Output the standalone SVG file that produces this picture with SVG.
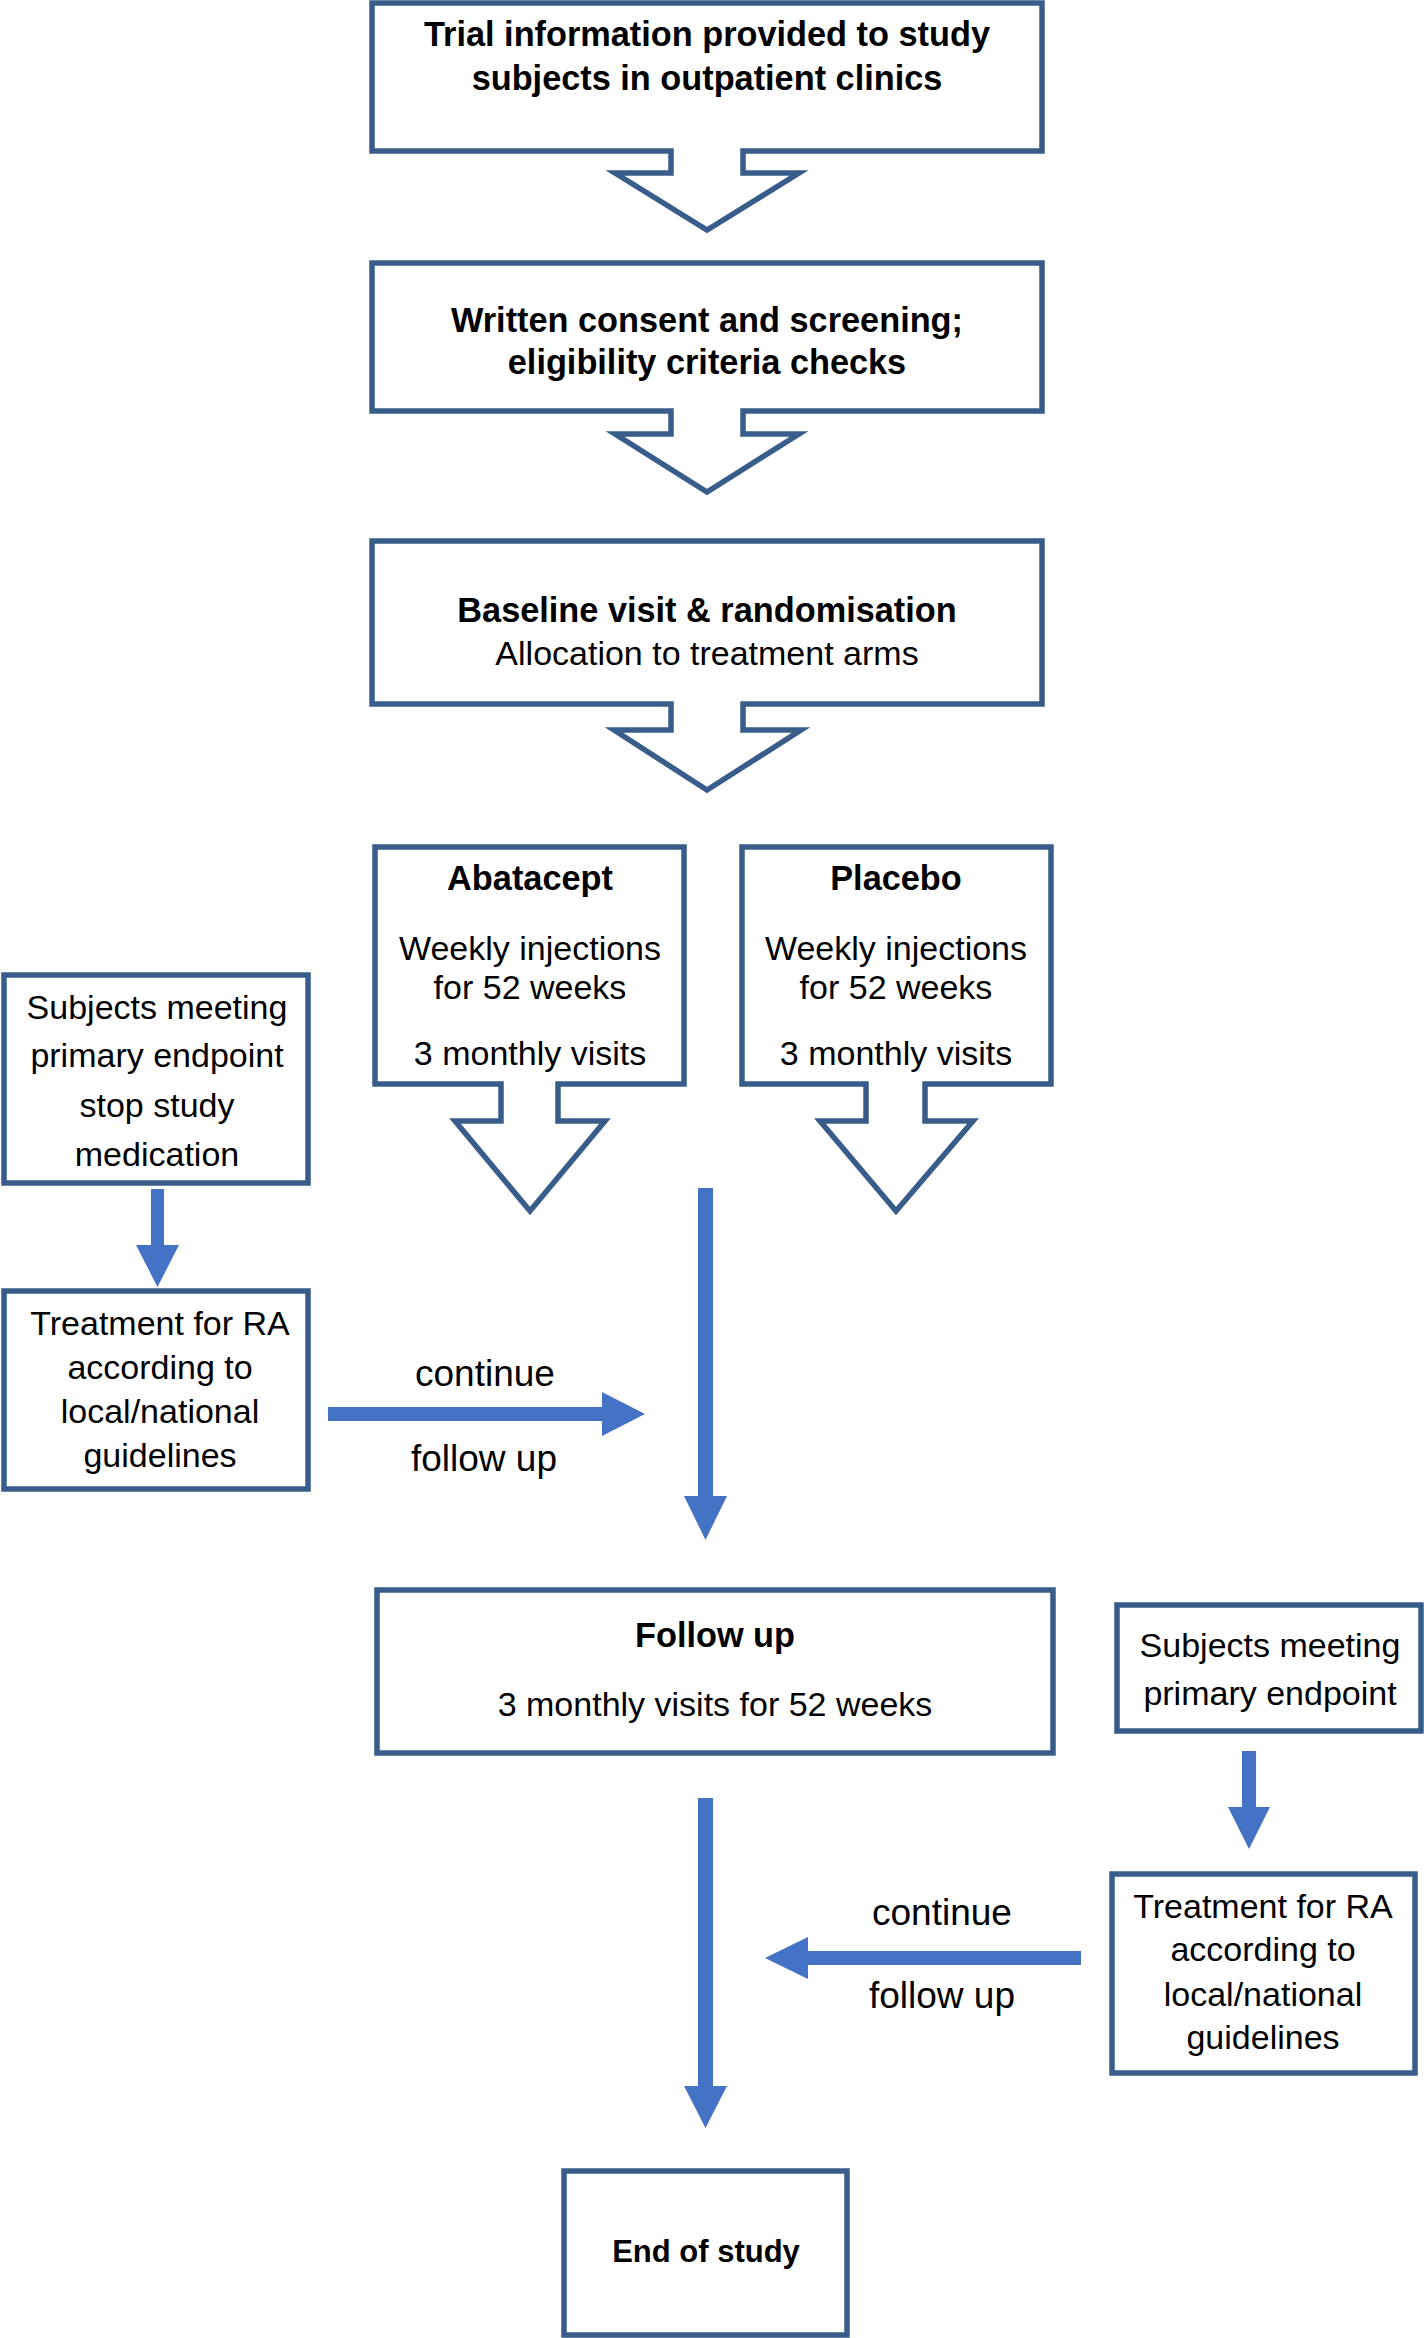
<svg xmlns="http://www.w3.org/2000/svg" width="1424" height="2338" viewBox="0 0 1424 2338">
<style>
.box{fill:#fff;stroke:#385D8A;stroke-width:5.5;stroke-linejoin:miter}
.arr{fill:#4472C4;stroke:none}
text{font-family:"Liberation Sans",Arial,sans-serif;font-size:34px;fill:#000;text-anchor:middle}
.b{font-weight:bold;font-size:34.3px}
.lbl{font-size:37px}
</style>
<rect width="1424" height="2338" fill="#fff"/>
<g id="n-trial">
<path class="box" d="M372,3 H1042 V151 H743 V173 H799 L707,230 L615,173 H671 V151 H372 Z"/>
<text class="b" x="707" y="46">Trial information provided to study</text>
<text class="b" x="707" y="90">subjects in outpatient clinics</text>
</g>
<g id="n-consent">
<path class="box" d="M372,263 H1042 V411 H743 V434 H799 L707,492 L615,434 H671 V411 H372 Z"/>
<text class="b" x="707" y="332">Written consent and screening;</text>
<text class="b" x="707" y="374">eligibility criteria checks</text>
</g>
<g id="n-baseline">
<path class="box" d="M372,541 H1042 V704 H743 V730 H801 L707,790 L614,730 H671 V704 H372 Z"/>
<text class="b" x="707" y="622">Baseline visit &amp; randomisation</text>
<text x="707" y="665">Allocation to treatment arms</text>
</g>
<g id="n-abatacept">
<path class="box" d="M375,847 H684 V1084 H558 V1121 H605 L530,1211 L455,1121 H501 V1084 H375 Z"/>
<text class="b" x="530" y="890">Abatacept</text>
<text x="530" y="960">Weekly injections</text>
<text x="530" y="999">for 52 weeks</text>
<text x="530" y="1065">3 monthly visits</text>
</g>
<g id="n-placebo">
<path class="box" d="M742,847 H1051 V1084 H925 V1121 H973 L896,1211 L820,1121 H866 V1084 H742 Z"/>
<text class="b" x="896" y="890">Placebo</text>
<text x="896" y="960">Weekly injections</text>
<text x="896" y="999">for 52 weeks</text>
<text x="896" y="1065">3 monthly visits</text>
</g>
<g id="n-stop">
<rect class="box" x="4" y="975" width="304" height="208"/>
<text x="157" y="1019">Subjects meeting</text>
<text x="157" y="1067">primary endpoint</text>
<text x="157" y="1117">stop study</text>
<text x="157" y="1166">medication</text>
</g>
<g id="n-treat-left">
<rect class="box" x="4" y="1291" width="304" height="198"/>
<text x="160" y="1335">Treatment for RA</text>
<text x="160" y="1379">according to</text>
<text x="160" y="1423">local/national</text>
<text x="160" y="1467">guidelines</text>
</g>
<g id="n-followup">
<rect class="box" x="377" y="1590" width="676" height="163"/>
<text class="b" x="715" y="1647">Follow up</text>
<text x="715" y="1716">3 monthly visits for 52 weeks</text>
</g>
<g id="n-endpoint-right">
<rect class="box" x="1117" y="1605" width="304" height="126"/>
<text x="1270" y="1657">Subjects meeting</text>
<text x="1270" y="1705">primary endpoint</text>
</g>
<g id="n-treat-right">
<rect class="box" x="1112" y="1874" width="303" height="199"/>
<text x="1263" y="1918">Treatment for RA</text>
<text x="1263" y="1961">according to</text>
<text x="1263" y="2006">local/national</text>
<text x="1263" y="2049">guidelines</text>
</g>
<g id="n-end">
<rect class="box" x="564" y="2171" width="283" height="164"/>
<text class="b" x="706" y="2262" style="font-size:31px">End of study</text>
</g>
<g id="connectors">
<path class="arr" d="M151,1189 H164 V1245 H179 L157.5,1287 L136,1245 H151 Z"/>
<path class="arr" d="M328,1407 H602 V1392 L645,1414 L602,1436 V1421 H328 Z"/>
<path class="arr" d="M698,1188 H713 V1496 H727 L705.5,1540 L684,1496 H698 Z"/>
<path class="arr" d="M1242,1751 H1256 V1807 H1270 L1249,1849 L1228,1807 H1242 Z"/>
<path class="arr" d="M1081,1951 H808 V1937 L765,1958 L808,1979 V1965 H1081 Z"/>
<path class="arr" d="M698,1798 H713 V2086 H727 L705.5,2128 L684,2086 H698 Z"/>
<text class="lbl" x="485" y="1386">continue</text>
<text class="lbl" x="484" y="1471">follow up</text>
<text class="lbl" x="942" y="1925">continue</text>
<text class="lbl" x="942" y="2008">follow up</text>
</g>
</svg>
